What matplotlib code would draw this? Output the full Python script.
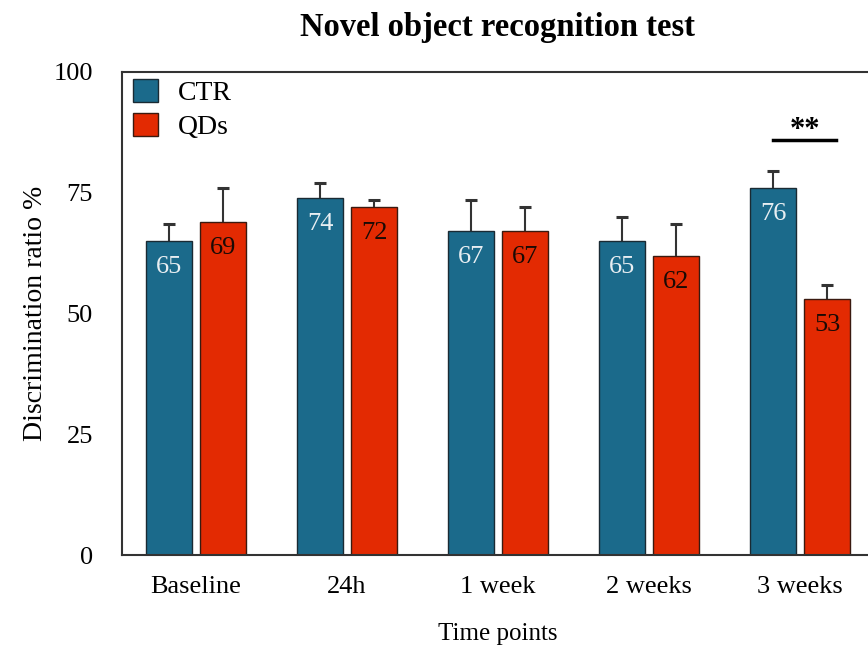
import matplotlib
matplotlib.use("Agg")
import matplotlib.pyplot as plt
import numpy as np

plt.rcParams['font.family'] = ['Liberation Serif', 'DejaVu Serif']

time_points = ["Baseline", "24h", "1 week", "2 weeks", "3 weeks"]
ctr_mean = [65, 74, 67, 65, 76]
ctr_err = [3.5, 3, 6.5, 5, 3.5]
qds_mean = [69, 72, 67, 62, 53]
qds_err = [7, 1.5, 5, 6.5, 3]

ctr_color = '#1b6a8b'
qds_color = '#e32a02'

fig = plt.figure(figsize=(8.68, 6.48), dpi=100)
ax = fig.add_axes([122 / 868, 93 / 648, 752 / 868, 483 / 648])

x = np.arange(len(time_points))
w = 0.31
off = 0.179

ax.bar(x - off, ctr_mean, w, color=ctr_color, edgecolor='#1a2a33', linewidth=1, label='CTR')
ax.bar(x + off, qds_mean, w, color=qds_color, edgecolor='#3a1a10', linewidth=1, label='QDs')

# upper-only error bars (hide the lower caps)
for xs, m, e in [(x - off, ctr_mean, ctr_err), (x + off, qds_mean, qds_err)]:
    eb = ax.errorbar(xs, m, yerr=[np.zeros(len(xs)), e], fmt='none', ecolor='#333333',
                     elinewidth=1.5, capsize=4.5, capthick=2.2, zorder=1)
    eb[1][0].set_visible(False)

# value labels just inside the top of each bar
for xi, v in zip(x - off, ctr_mean):
    ax.text(xi, v - 5.4, str(v), ha='center', va='center', color='#e8eef2', fontsize=19)
for xi, v in zip(x + off, qds_mean):
    ax.text(xi, v - 5.4, str(v), ha='center', va='center', color='#1a0a05', fontsize=19)

# significance marker for 3 weeks
ax.plot([3.82, 4.24], [86, 86], color='black', lw=2.5)
ax.text(4.03, 87.8, '**', ha='center', va='center', fontsize=22, fontweight='bold')

ax.set_xlim(-0.49, 4.49)
ax.set_ylim(0, 100)
ax.set_yticks([0, 25, 50, 75, 100])
ax.set_xticks(x)
ax.set_xticklabels(time_points)
ax.tick_params(axis='both', length=0, labelsize=19)
ax.tick_params(axis='y', pad=21)
ax.tick_params(axis='x', pad=15)
for s in ax.spines.values():
    s.set_color('#333333')
    s.set_linewidth(1.5)

ax.set_ylabel('Discrimination ratio %', fontsize=20, labelpad=4)
ax.set_xlabel('Time points', fontsize=18, labelpad=18)
ax.set_title('Novel object recognition test', fontsize=23.5, fontweight='bold', pad=26)

ax.legend(loc='upper left', bbox_to_anchor=(0, 1.009), frameon=False, fontsize=20,
          handlelength=0.9, handleheight=0.9, handletextpad=0.72, labelspacing=0.26,
          borderpad=0, borderaxespad=0.4)

fig.savefig('out.png', dpi=100)
